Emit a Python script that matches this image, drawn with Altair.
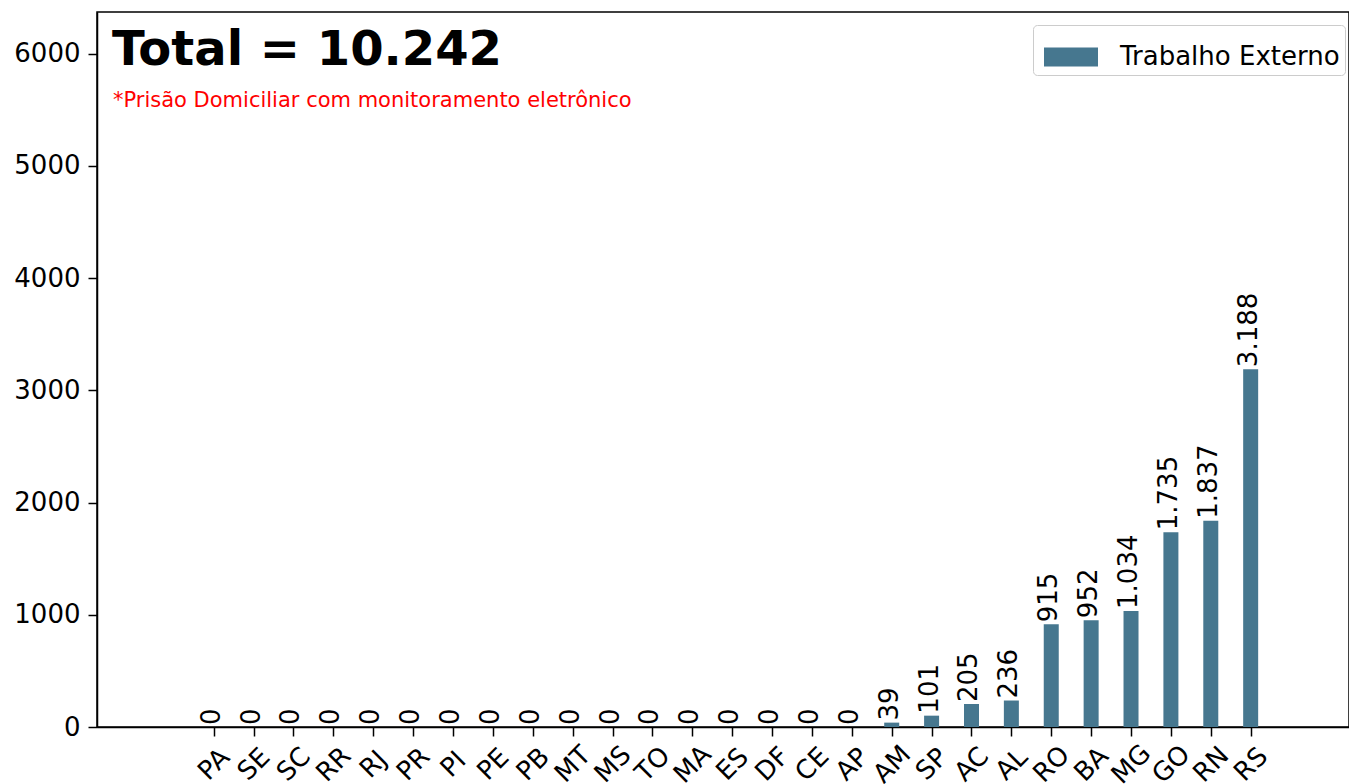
import json
import altair as alt
import pandas as pd

estados = ["PA", "SE", "SC", "RR", "RJ", "PR", "PI", "PE", "PB", "MT", "MS", "TO",
           "MA", "ES", "DF", "CE", "AP", "AM", "SP", "AC", "AL", "RO", "BA", "MG",
           "GO", "RN", "RS"]
valores = [0, 0, 0, 0, 0, 0, 0, 0, 0, 0, 0, 0,
           0, 0, 0, 0, 0, 39, 101, 205, 236, 915, 952, 1034,
           1735, 1837, 3188]
serie = "Trabalho Externo"
y_ticks = [0, 1000, 2000, 3000, 4000, 5000, 6000]
titulo = "Total = 10.242"
nota = "*Prisão Domiciliar com monitoramento eletrônico"

rotulos = [f"{v:,}".replace(",", ".") for v in valores]
posicoes = list(range(len(estados)))
df = pd.DataFrame({"pos": posicoes, "UF": estados, "valor": valores,
                   "rotulo": rotulos, "serie": serie})

FONT = "DejaVu Sans"
BAR = "#46778f"

x_enc = alt.X(
    "pos:Q", title=None,
    scale=alt.Scale(domain=[-2.80, 28.34], nice=False, zero=False),
    axis=alt.Axis(values=posicoes, labelExpr=f"{json.dumps(estados)}[datum.value]",
                  labelAngle=-45, labelAlign="center", labelBaseline="middle",
                  labelPadding=28, tickSize=9, grid=False, labelFlush=False,
                  labelOverlap=False),
)
y_enc = alt.Y(
    "valor:Q", title=None,
    scale=alt.Scale(domain=[0, 6370], nice=False),
    axis=alt.Axis(values=y_ticks, format="d", grid=False, tickSize=9, labelPadding=8),
)

bars = alt.Chart(df).mark_bar(size=15).encode(
    x=x_enc, y=y_enc,
    color=alt.Color("serie:N", scale=alt.Scale(range=[BAR]),
                    legend=alt.Legend(
                        title=None, orient="none", legendX=936, legendY=13,
                        padding=5, strokeColor="#cccccc", fillColor="white",
                        cornerRadius=4,
                        symbolType="M-1,-0.35H1V0.35H-1Z", symbolSize=2916,
                        symbolStrokeWidth=0, symbolOpacity=1, symbolOffset=6,
                        labelFontSize=26, labelFont=FONT, labelColor="black",
                        labelOffset=22, labelLimit=0)),
)

text = alt.Chart(df).mark_text(
    angle=270, align="left", baseline="middle", dx=2, dy=-2,
    fontSize=26, font=FONT, color="black",
).encode(x=x_enc, y=y_enc, text="rotulo:N")

tit = alt.Chart(pd.DataFrame({"t": [titulo]})).mark_text(
    align="left", baseline="alphabetic", fontSize=48, fontWeight="bold",
    font=FONT, color="black",
).encode(x=alt.value(15), y=alt.value(53), text="t:N")

sub = alt.Chart(pd.DataFrame({"t": [nota]})).mark_text(
    align="left", baseline="alphabetic", fontSize=21, font=FONT, color="red",
).encode(x=alt.value(16), y=alt.value(95), text="t:N")

chart = alt.layer(bars, text, tit, sub).properties(
    width=1252, height=715,
    padding={"left": 5, "top": 4, "right": 0, "bottom": 0},
).configure_view(
    stroke="black", strokeWidth=1.5,
).configure_axis(
    domainColor="black", domainWidth=1.5, tickColor="black", tickWidth=1.5,
    labelColor="black", labelFontSize=26, labelFont=FONT,
)

chart.save("out.html", embed_options={"renderer": "svg", "actions": False})
